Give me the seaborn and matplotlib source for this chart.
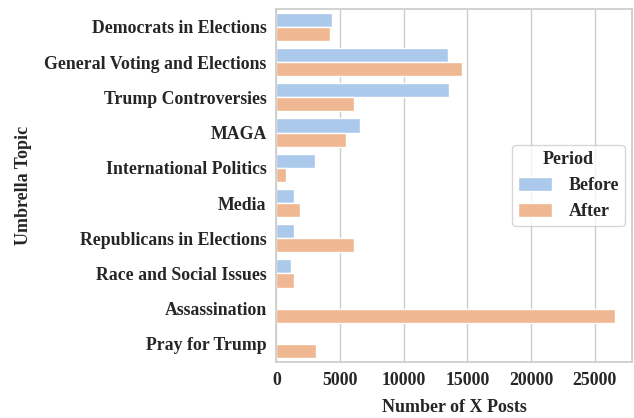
import pandas as pd
import matplotlib
matplotlib.use("Agg")
import matplotlib.pyplot as plt
import seaborn as sns

# -----------------------------------
# DATA
# -----------------------------------

topics = [
    "Democrats in Elections",
    "General Voting and Elections",
    "Trump Controversies",
    "MAGA",
    "International Politics",
    "Media",
    "Republicans in Elections",
    "Race and Social Issues",
    "Assassination",
    "Pray for Trump",
]

before_posts = [4370, 13480, 13530, 6570, 3040, 1370, 1390, 1130, 0, 0]
after_posts = [4210, 14580, 6100, 5470, 740, 1860, 6120, 1390, 26600, 3090]

periods = ["Before", "After"]

df = pd.DataFrame({
    "Umbrella Topic": topics * 2,
    "Number of X Posts": before_posts + after_posts,
    "Period": [periods[0]] * len(topics) + [periods[1]] * len(topics),
})

# -----------------------------------
# PLOT
# -----------------------------------

sns.set_theme(style="whitegrid", palette="pastel")
plt.rcParams["font.family"] = ["Liberation Serif", "DejaVu Serif"]
plt.rcParams["font.weight"] = "bold"

fig, ax = plt.subplots(figsize=(6.34, 4.18), dpi=100)

sns.barplot(
    data=df,
    y="Umbrella Topic",
    x="Number of X Posts",
    hue="Period",
    orient="h",
    ax=ax,
)

ax.set_xlabel("Number of X Posts", fontsize=13, fontweight="bold", labelpad=7)
ax.set_ylabel("Umbrella Topic", fontsize=13, fontweight="bold", labelpad=9)
ax.tick_params(axis="both", labelsize=12.8)
ax.tick_params(axis="y", pad=1)
ax.tick_params(axis="x", pad=1.5)
for lab in ax.get_xticklabels() + ax.get_yticklabels():
    lab.set_fontweight("bold")

leg = ax.legend(
    title="Period",
    loc="center right",
    bbox_to_anchor=(1.0, 0.5),
    borderaxespad=0.4,
    fontsize=13,
    title_fontsize=13,
    handlelength=1.9,
    handleheight=0.8,
    handletextpad=0.95,
    borderpad=0.3,
)
leg.get_title().set_fontweight("bold")
for t in leg.get_texts():
    t.set_fontweight("bold")

plt.subplots_adjust(left=0.436, right=0.997, top=0.978, bottom=0.135)

plt.savefig("out.png", dpi=100)
